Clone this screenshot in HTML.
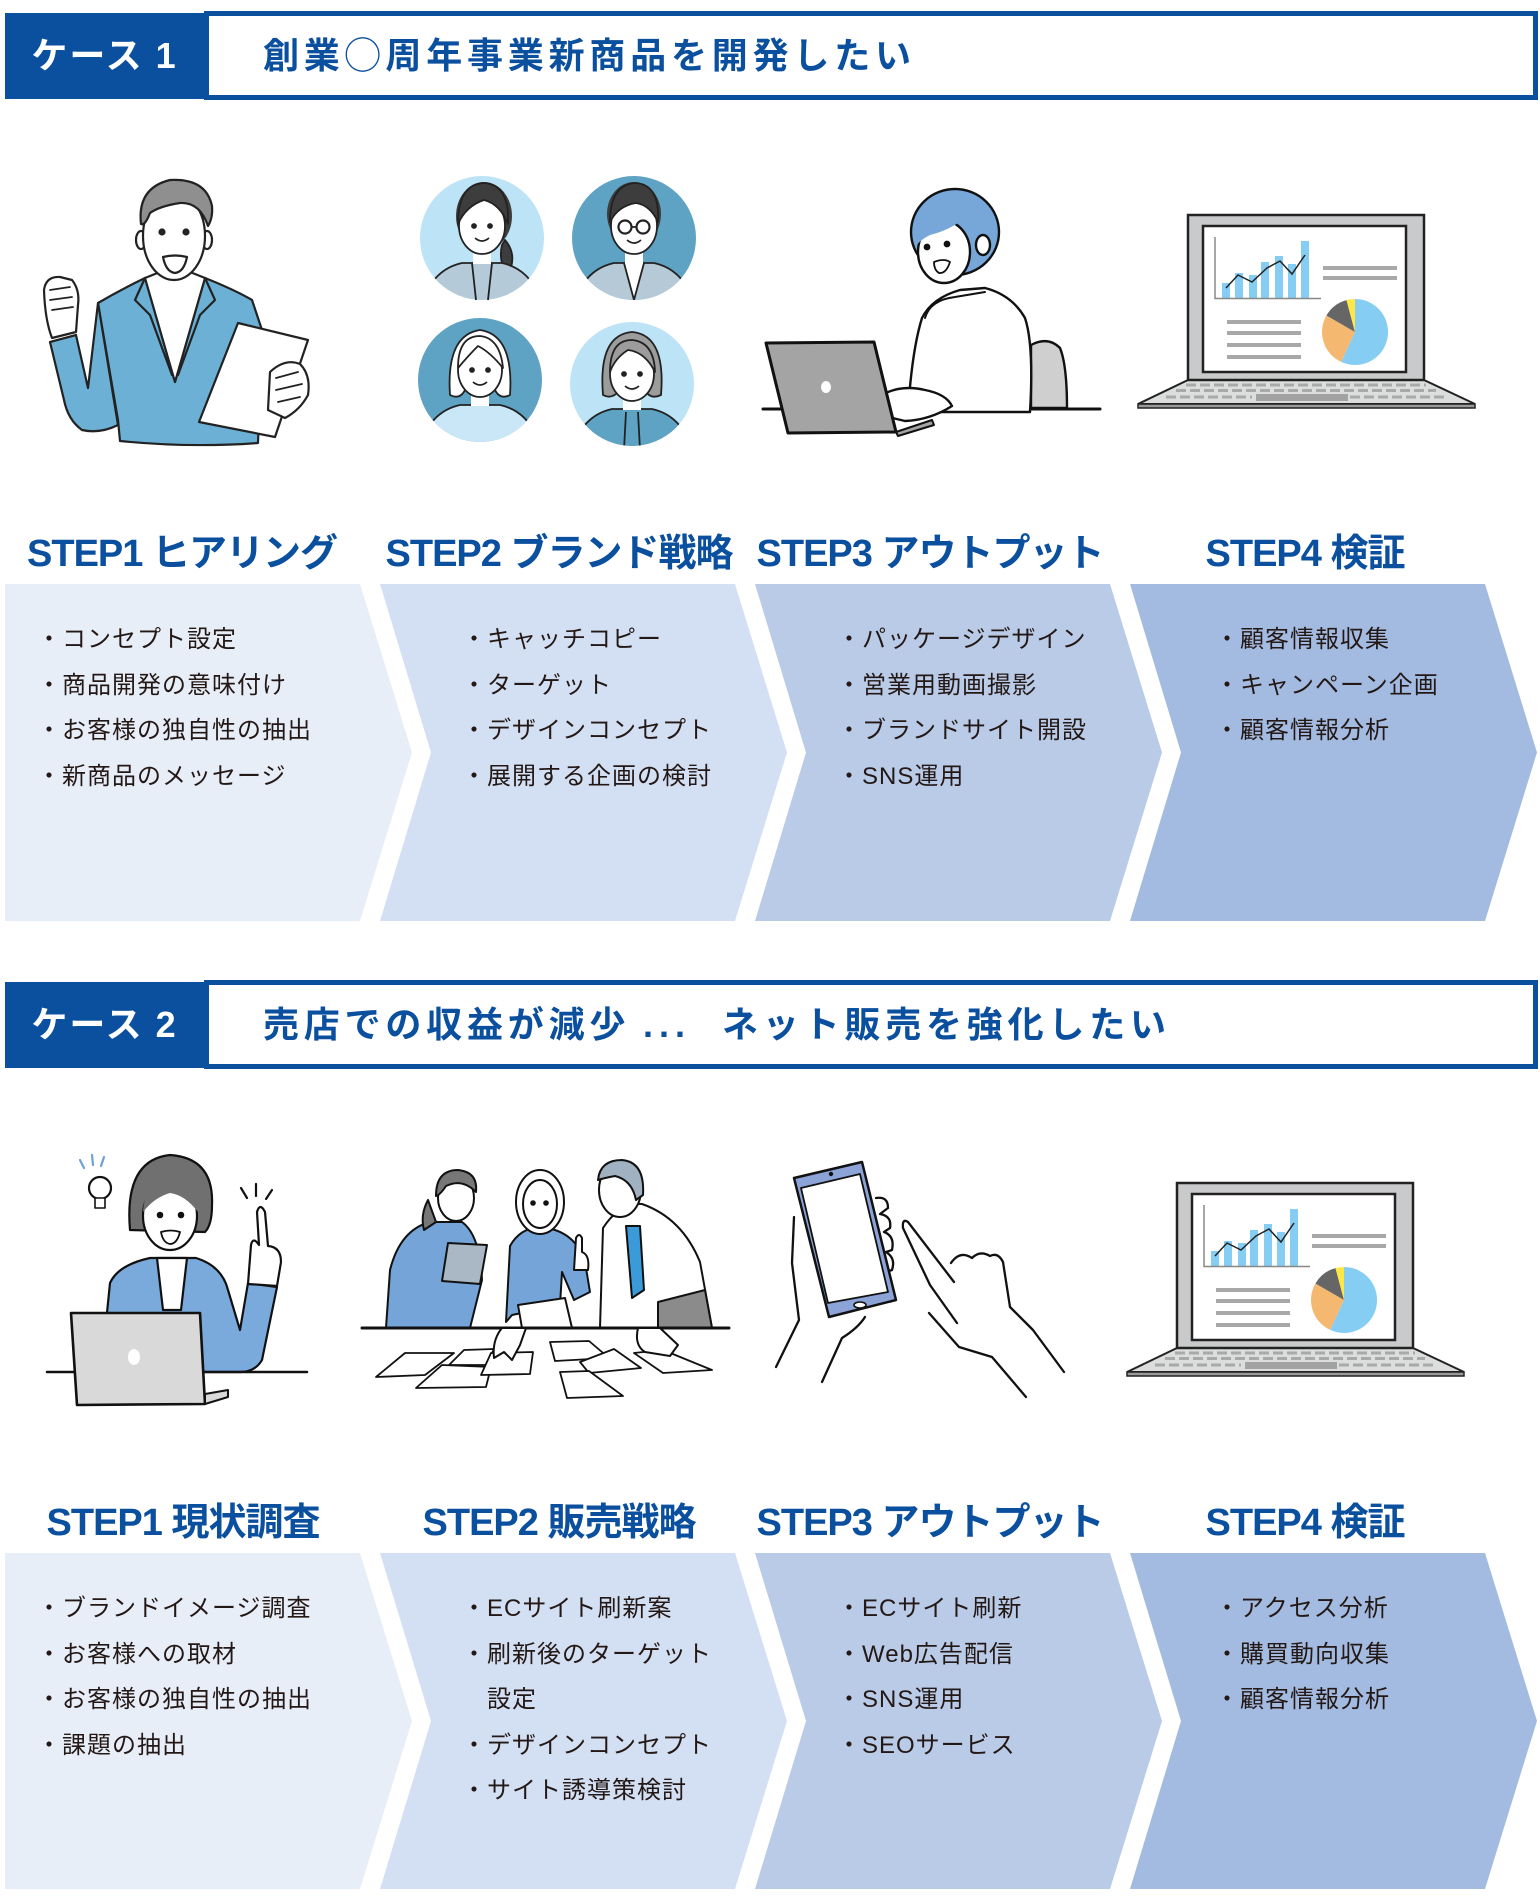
<!DOCTYPE html>
<html><head><meta charset="utf-8">
<style>
html,body{margin:0;padding:0;background:#fff;}
#wrap{position:relative;width:1540px;height:1900px;overflow:hidden;background:#fff;}
.t{position:absolute;font-family:"Liberation Sans","Noto Sans CJK JP",sans-serif;white-space:nowrap;}
.dk{position:absolute;background:#0b4f9f;}
.bx{position:absolute;box-sizing:border-box;border:5px solid #0b4f9f;background:#fff;}
.cs{color:#fff;font-size:36px;font-weight:bold;letter-spacing:2px;text-align:center;}
.ht{color:#0b4f9f;font-size:36px;font-weight:bold;letter-spacing:4.8px;}
.st{color:#0b4f9f;font-size:38px;font-weight:bold;line-height:50px;width:440px;text-align:center;letter-spacing:-1px;}
.bl{color:#231815;font-size:24px;line-height:45.6px;letter-spacing:1px;}
.ind{padding-left:25px;}
</style></head>
<body><div id="wrap">
<svg width="1540" height="1900" viewBox="0 0 1540 1900" style="position:absolute;left:0;top:0">
<defs>
<clipPath id="cp1"><circle cx="482" cy="238" r="62"/></clipPath>
<clipPath id="cp2"><circle cx="634" cy="238" r="62"/></clipPath>
<clipPath id="cp3"><circle cx="480" cy="380" r="62"/></clipPath>
<clipPath id="cp4"><circle cx="632" cy="384" r="62"/></clipPath>
<g id="lap">
<polygon points="1188,380 1424,380 1475,404 1138,404" fill="#dcdddd" stroke="#222" stroke-width="2"/>
<rect x="1138" y="404" width="337" height="4" fill="#9a9a9a" stroke="#222" stroke-width="1.5"/>
<line x1="1186" y1="385" x2="1426" y2="385" stroke="#a9a9a9" stroke-width="3" stroke-dasharray="10 4"/>
<line x1="1176" y1="390.5" x2="1436" y2="390.5" stroke="#a9a9a9" stroke-width="3" stroke-dasharray="10 4"/>
<line x1="1166" y1="397" x2="1252" y2="397" stroke="#a9a9a9" stroke-width="3" stroke-dasharray="10 4"/>
<line x1="1350" y1="397" x2="1446" y2="397" stroke="#a9a9a9" stroke-width="3" stroke-dasharray="10 4"/>
<rect x="1256" y="394" width="92" height="7" fill="#a2a2a2"/>
<rect x="1188" y="215" width="236" height="165" fill="#c9cacb" stroke="#222" stroke-width="2.5"/>
<rect x="1203" y="226" width="203" height="146" fill="#fff" stroke="#222" stroke-width="2.5"/>
<g fill="#85cdf2">
<rect x="1222" y="283" width="8" height="15"/>
<rect x="1235" y="273" width="8" height="25"/>
<rect x="1249" y="275" width="8" height="23"/>
<rect x="1261" y="262" width="8" height="36"/>
<rect x="1275" y="256" width="8" height="42"/>
<rect x="1288" y="264" width="8" height="34"/>
<rect x="1301" y="241" width="8" height="57"/>
</g>
<polyline points="1215,237 1215,298.5 1321,298.5" fill="none" stroke="#888" stroke-width="1.5"/>
<polyline points="1226,288 1238,275 1252,282 1267,268 1280,261 1292,274 1305,255" fill="none" stroke="#222" stroke-width="1.5"/>
<g fill="#a8a8a8">
<rect x="1323" y="266" width="74" height="4"/>
<rect x="1323" y="276" width="74" height="4"/>
<rect x="1227" y="320" width="74" height="4"/>
<rect x="1227" y="331" width="74" height="4"/>
<rect x="1227" y="343" width="74" height="4"/>
<rect x="1227" y="355" width="74" height="4"/>
</g>
<path d="M1355,332 L1355,299 A33,33 0 1 1 1341.1,361.9 Z" fill="#85cdf2"/>
<path d="M1355,332 L1341.1,361.9 A33,33 0 0 1 1326.4,315.5 Z" fill="#f4b870"/>
<path d="M1355,332 L1326.4,315.5 A33,33 0 0 1 1346.5,300.1 Z" fill="#666"/>
<path d="M1355,332 L1346.5,300.1 A33,33 0 0 1 1355,299 Z" fill="#ffe845"/>
</g>
</defs>

<!-- ===== chevrons case 1 ===== -->
<polygon points="5,584 360,584 412,752.5 360,921 5,921" fill="#e8eef8"/>
<polygon points="380,584 735,584 787,752.5 735,921 380,921 431,752.5" fill="#d3e0f3"/>
<polygon points="755,584 1110,584 1162,752.5 1110,921 755,921 806,752.5" fill="#b9cbe7"/>
<polygon points="1130,584 1485,584 1537,752.5 1485,921 1130,921 1181,752.5" fill="#a3bbe0"/>
<!-- ===== chevrons case 2 ===== -->
<polygon points="5,1553 360,1553 412,1721 360,1889 5,1889" fill="#e8eef8"/>
<polygon points="380,1553 735,1553 787,1721 735,1889 380,1889 431,1721" fill="#d3e0f3"/>
<polygon points="755,1553 1110,1553 1162,1721 1110,1889 755,1889 806,1721" fill="#b9cbe7"/>
<polygon points="1130,1553 1485,1553 1537,1721 1485,1889 1130,1889 1181,1721" fill="#a3bbe0"/>

<!-- ===== Case1 ill1: man ===== -->
<g stroke="#222" stroke-width="2.2" stroke-linejoin="round" stroke-linecap="round">
<path d="M98,303 Q120,290 145,278 L175,382 L205,278 Q235,290 252,300 L262,330 L258,443 Q190,448 120,441 L118,420 Z" fill="#6cb1d5"/>
<path d="M98,303 L118,425 Q100,434 82,430 Q68,420 64,400 L50,342 L76,335 L88,388 Z" fill="#6cb1d5"/>
<path d="M145,278 L160,272 L190,272 L205,278 L175,382 Z" fill="#fff"/>
<path d="M145,278 L135,300 L150,315 L172,375" fill="none"/>
<path d="M205,278 L215,300 L200,315 L178,375" fill="none"/>
<path d="M44,290 Q46,276 60,277 L72,280 Q80,290 78,305 L76,332 L52,338 Q45,320 44,290 Z" fill="#fff"/>
<path d="M50,290 L70,287 M50,300 L72,297 M52,310 L73,307" fill="none" stroke-width="1.8"/>
<line x1="50" y1="342" x2="76" y2="335"/>
<ellipse cx="141" cy="240" rx="5" ry="9" fill="#fff"/>
<ellipse cx="207" cy="240" rx="5" ry="9" fill="#fff"/>
<ellipse cx="174" cy="236" rx="31" ry="44" fill="#fff"/>
<path d="M141,224 Q137,188 170,180 Q206,178 212,206 Q213,218 208,226 Q200,202 180,203 Q160,206 150,213 Q145,226 141,224 Z" fill="#8f8f8f"/>
<circle cx="162" cy="232" r="2.5" fill="#222"/>
<circle cx="186" cy="232" r="2.5" fill="#222"/>
<path d="M163,257 Q175,254 187,257 Q184,272 175,273 Q166,272 163,257 Z" fill="#fff"/>
<polygon points="238,323 308,340 275,437 199,422" fill="#fff"/>
<path d="M270,372 Q285,358 300,364 Q311,375 308,395 Q300,410 285,418 L268,410 Z" fill="#fff"/>
<path d="M276,378 L298,372 M276,390 L302,384 M278,402 L300,397" fill="none" stroke-width="1.8"/>
</g>

<!-- ===== Case1 ill2: four circles ===== -->
<g stroke="#222" stroke-width="1.8" stroke-linejoin="round">
<!-- c1 -->
<circle cx="482" cy="238" r="62" fill="#bde3f6" stroke="none"/>
<ellipse cx="484" cy="216" rx="28" ry="34" fill="#3d3d3d" stroke="none"/>
<path d="M505,240 Q518,255 508,275 Q498,262 502,245 Z" fill="#3d3d3d"/>
<g clip-path="url(#cp1)"><path d="M420,310 Q430,270 462,263 L502,263 Q534,270 544,310 Z" fill="#b4cad8"/></g>
<rect x="473" y="248" width="18" height="16" fill="#fff" stroke="none"/>
<path d="M472,263 L476,300 M492,263 L488,300" fill="none"/>
<ellipse cx="482" cy="226" rx="23" ry="28" fill="#fff"/>
<path d="M458,224 Q458,184 484,183 Q510,185 508,224 Q500,204 484,200 Q466,206 458,224 Z" fill="#3d3d3d"/>
<circle cx="474" cy="226" r="2" fill="#222"/><circle cx="490" cy="226" r="2" fill="#222"/>
<path d="M475,238 Q482,244 489,238" fill="none"/>
<!-- c2 -->
<circle cx="634" cy="238" r="62" fill="#5fa3c4" stroke="none"/>
<ellipse cx="634" cy="214" rx="27" ry="32" fill="#3d3d3d" stroke="none"/>
<g clip-path="url(#cp2)"><path d="M572,310 Q582,270 614,263 L654,263 Q686,270 696,310 Z" fill="#b6c9d6"/>
<path d="M624,263 L634,300 L644,263" fill="#fff"/></g>
<rect x="625" y="248" width="18" height="16" fill="#fff" stroke="none"/>
<ellipse cx="634" cy="226" rx="23" ry="28" fill="#fff"/>
<path d="M610,222 Q610,184 636,183 Q660,185 658,222 Q650,205 636,203 Q618,206 610,222 Z" fill="#3d3d3d"/>
<circle cx="625" cy="227" r="6.5" fill="none" stroke-width="2.2"/><circle cx="643" cy="227" r="6.5" fill="none" stroke-width="2.2"/>
<line x1="631" y1="227" x2="637" y2="227"/>
<path d="M627,240 Q634,246 641,240" fill="none"/>
<!-- c3 -->
<circle cx="480" cy="380" r="62" fill="#5fa3c4" stroke="none"/>
<path d="M450,395 Q446,335 480,330 Q514,335 510,395 Q500,400 495,390 L465,390 Q460,400 450,395 Z" fill="#fff"/>
<g clip-path="url(#cp3)"><path d="M418,452 Q428,412 460,405 L500,405 Q532,412 542,452 Z" fill="#c9e7f7"/></g>
<rect x="471" y="390" width="18" height="16" fill="#fff" stroke="none"/>
<ellipse cx="480" cy="370" rx="22" ry="27" fill="#fff"/>
<path d="M458,368 Q458,336 480,336 Q500,338 503,368 Q490,352 478,346 Q468,356 458,368 Z" fill="#fff"/>
<circle cx="472" cy="370" r="2" fill="#222"/><circle cx="488" cy="370" r="2" fill="#222"/>
<path d="M473,382 Q480,388 487,382" fill="none"/>
<!-- c4 -->
<circle cx="632" cy="384" r="62" fill="#bde3f6" stroke="none"/>
<path d="M603,395 Q598,335 632,332 Q666,335 661,395 Q650,400 645,390 L620,390 Q612,400 603,395 Z" fill="#9c9c9c"/>
<g clip-path="url(#cp4)"><path d="M570,456 Q580,416 612,409 L652,409 Q684,416 694,456 Z" fill="#5fa3c4"/>
<path d="M626,412 L624,450 M638,412 L640,450" fill="none"/></g>
<rect x="623" y="394" width="18" height="16" fill="#fff" stroke="none"/>
<ellipse cx="632" cy="374" rx="22" ry="27" fill="#fff"/>
<path d="M610,372 Q610,340 632,340 Q654,342 655,372 Q645,352 628,350 Q615,358 610,372 Z" fill="#9c9c9c"/>
<circle cx="624" cy="374" r="2" fill="#222"/><circle cx="640" cy="374" r="2" fill="#222"/>
<path d="M625,386 Q632,392 639,386" fill="none"/>
</g>

<!-- ===== Case1 ill3: woman at laptop ===== -->
<g stroke="#111" stroke-width="2.4" stroke-linejoin="round" stroke-linecap="round">
<line x1="763" y1="409" x2="1100" y2="409" stroke-width="3"/>
<path d="M1031,408 L1031,345 Q1048,336 1060,348 Q1067,365 1067,408 Z" fill="#cfcfcf"/>
<path d="M908,412 Q912,350 922,318 Q932,298 960,290 L985,288 Q1012,295 1025,318 Q1034,345 1030,412 Z" fill="#fff"/>
<path d="M925,318 Q930,300 955,297 L985,292" fill="none" stroke-width="2"/>
<path d="M880,396 Q900,384 925,390 Q946,394 952,406 Q930,420 905,421 L884,416 Z" fill="#fff"/>
<ellipse cx="955" cy="232" rx="44" ry="43" fill="#77a6d9"/>
<ellipse cx="944" cy="252" rx="26" ry="31" fill="#fff"/>
<path d="M917,245 Q916,205 950,200 Q985,200 992,238 Q980,222 965,218 Q950,230 930,235 Q920,240 917,245 Z" fill="#77a6d9" stroke="none"/>
<ellipse cx="983" cy="245" rx="7" ry="10" fill="#fff"/>
<circle cx="927" cy="247" r="2.2" fill="#111"/><circle cx="947" cy="244" r="2.2" fill="#111"/>
<path d="M934,262 Q944,258 950,262 Q946,274 939,273 Q934,270 934,262 Z" fill="#fff" stroke-width="1.8"/>
<polygon points="766,343 874,342 896,432 788,433" fill="#a4a4a4" stroke-width="3"/>
<polygon points="896,432 932,420 934,425 898,436" fill="#a4a4a4" stroke-width="2"/>
<ellipse cx="826" cy="387" rx="5" ry="6" fill="#fff" stroke="none"/>
</g>

<!-- ===== Case1 ill4: laptop ===== -->
<use href="#lap"/>

<!-- ===== Case2 ill1: woman with idea ===== -->
<g stroke="#111" stroke-width="2.2" stroke-linejoin="round" stroke-linecap="round">
<line x1="80" y1="1160" x2="84" y2="1168" stroke="#6fa0d8"/>
<line x1="92" y1="1155" x2="93" y2="1165" stroke="#6fa0d8"/>
<line x1="104" y1="1157" x2="101" y2="1166" stroke="#6fa0d8"/>
<circle cx="100" cy="1188" r="11" fill="#fff"/>
<rect x="95" y="1198" width="10" height="10" fill="#fff" stroke-width="1.6"/>
<line x1="241" y1="1188" x2="247" y2="1198"/>
<line x1="256" y1="1184" x2="256" y2="1196"/>
<line x1="272" y1="1190" x2="266" y2="1199"/>
<path d="M130,1230 Q124,1160 170,1155 Q214,1158 212,1205 Q212,1225 205,1232 Z" fill="#707070"/>
<path d="M101,1372 L110,1283 Q118,1265 150,1258 L196,1258 Q222,1266 228,1290 L240,1330 L248,1283 L277,1287 L262,1360 Q255,1372 240,1372 Z" fill="#7aaadb"/>
<polygon points="157,1258 187,1258 181,1310 163,1310" fill="#fff"/>
<ellipse cx="170" cy="1216" rx="27" ry="34" fill="#fff"/>
<path d="M143,1212 Q145,1180 170,1178 Q195,1180 198,1212 Q185,1195 170,1193 Q155,1197 143,1212 Z" fill="#707070" stroke="none"/>
<circle cx="160" cy="1215" r="2.2" fill="#111"/><circle cx="181" cy="1215" r="2.2" fill="#111"/>
<path d="M161,1232 Q171,1229 180,1232 Q177,1244 170,1244 Q163,1243 161,1232 Z" fill="#fff" stroke-width="1.8"/>
<path d="M248,1284 L251,1245 Q253,1236 259,1245 L257,1212 Q260,1202 265,1212 L268,1246 Q281,1247 281,1262 L277,1286 Z" fill="#fff"/>
<line x1="47" y1="1372" x2="307" y2="1372" stroke-width="2.5"/>
<polygon points="71,1313 200,1313 205,1404 77,1405" fill="#d9d9d9" stroke-width="2.6"/>
<polygon points="205,1394 228,1390 228,1397 205,1404" fill="#d9d9d9" stroke-width="2"/>
<ellipse cx="134" cy="1357" rx="6" ry="8" fill="#fff" stroke="none"/>
</g>

<!-- ===== Case2 ill2: group meeting ===== -->
<g stroke="#111" stroke-width="2" stroke-linejoin="round" stroke-linecap="round">
<!-- person A -->
<path d="M386,1328 L390,1270 Q400,1230 430,1222 L462,1222 Q480,1235 482,1280 L470,1328 Z" fill="#75a5d8"/>
<path d="M428,1200 Q420,1215 424,1230 L436,1222 Z" fill="#777"/>
<ellipse cx="456" cy="1198" rx="18" ry="23" fill="#fff"/>
<path d="M436,1196 Q436,1170 458,1170 Q478,1172 476,1192 Q462,1178 446,1186 Q440,1195 436,1196 Z" fill="#777"/>
<polygon points="448,1243 487,1245 480,1284 442,1281" fill="#a9b8c4"/>
<!-- person C -->
<path d="M600,1328 L603,1228 Q620,1202 642,1204 Q682,1218 700,1262 L712,1328 Z" fill="#fff"/>
<polygon points="626,1226 640,1226 644,1290 632,1298" fill="#3b9ad8"/>
<polygon points="658,1302 705,1290 712,1328 658,1328" fill="#8b8b8b"/>
<ellipse cx="620" cy="1190" rx="21" ry="27" fill="#fff"/>
<path d="M598,1180 Q600,1160 622,1160 Q645,1162 643,1195 L636,1200 Q632,1180 615,1176 Q604,1178 598,1180 Z" fill="#a0b2c2"/>
<!-- person B -->
<path d="M506,1322 L510,1246 Q520,1228 540,1227 Q575,1230 585,1262 L590,1292 L574,1300 L562,1272 L560,1305 L512,1315 Z" fill="#75a5d8"/>
<polygon points="518,1305 565,1298 572,1328 522,1328" fill="#fff"/>
<ellipse cx="540" cy="1202" rx="24" ry="32" fill="#fff"/>
<ellipse cx="540" cy="1204" rx="17" ry="24" fill="#fff"/>
<circle cx="533" cy="1203" r="1.8" fill="#111"/><circle cx="546" cy="1203" r="1.8" fill="#111"/>
<path d="M574,1270 L576,1238 Q579,1232 582,1238 L582,1252 Q590,1255 588,1270 Z" fill="#fff"/>
<line x1="362" y1="1328" x2="729" y2="1328" stroke-width="3"/>
<g fill="#fff" stroke-width="1.8">
<polygon points="376,1377 405,1353 454,1353 425,1375"/>
<polygon points="449,1365 464,1350 494,1349 486,1365"/>
<polygon points="416,1388 442,1365 491,1367 486,1387"/>
<polygon points="481,1375 491,1353 533,1352 530,1374"/>
<polygon points="550,1342 589,1341 609,1358 555,1361"/>
<polygon points="580,1362 614,1349 641,1368 589,1373"/>
<polygon points="560,1372 589,1371 623,1396 567,1398"/>
<polygon points="634,1353 663,1350 712,1370 663,1373"/>
</g>
<path d="M502,1328 Q492,1340 494,1358 L504,1352 L512,1360 L520,1345 L526,1328 Z" fill="#fff"/>
<path d="M638,1328 Q634,1345 645,1352 L670,1356 L678,1345 L660,1328 Z" fill="#fff"/>
</g>

<!-- ===== Case2 ill3: phone & hands ===== -->
<g stroke="#111" stroke-width="2.3" stroke-linejoin="round" stroke-linecap="round" fill="none">
<path d="M794,1217 L792,1263 L799,1320 L776,1367"/>
<path d="M822,1382 L842,1338 Q858,1328 865,1317"/>
<path d="M876,1198 Q888,1196 888,1208 L880,1214 Q892,1216 890,1228 L884,1232 Q895,1236 892,1250 L886,1252 Q896,1258 892,1270 L886,1272"/>
<polygon points="794,1178 862,1162 896,1300 829,1317" fill="#8ca3d8" stroke-width="2.5"/>
<polygon points="801,1188 860,1174 888,1292 828,1303" fill="#fff" stroke-width="1.8"/>
<circle cx="831" cy="1174" r="2.2" fill="#111" stroke="none"/>
<ellipse cx="860" cy="1305" rx="6" ry="3" fill="#fff" stroke-width="1.6"/>
<path d="M954,1282 L908,1222 Q902,1218 903,1228 L930,1285 L957,1323"/>
<path d="M951,1263 Q960,1250 972,1258 Q980,1250 990,1256 Q998,1252 1003,1262 L1010,1307 L1033,1330 L1064,1372"/>
<path d="M929,1313 L959,1347 L992,1357 L1026,1397"/>
</g>

<!-- ===== Case2 ill4: laptop ===== -->
<use href="#lap" transform="translate(-11,968)"/>
</svg>

<!-- ===== Case 1 header ===== -->
<div class="bx" style="left:204px;top:11px;width:1334px;height:89px;"></div>
<div class="dk" style="left:5px;top:13px;width:199px;height:86px;"></div>
<div class="t cs" style="left:5px;top:13px;width:199px;height:86px;line-height:86px;">ケース 1</div>
<div class="t ht" style="left:263px;top:11px;height:89px;line-height:89px;">創業◯周年事業新商品を開発したい</div>

<!-- Case 1 step titles -->
<div class="t st" style="left:-38px;top:529px;">STEP1 ヒアリング</div>
<div class="t st" style="left:339px;top:529px;">STEP2 ブランド戦略</div>
<div class="t st" style="left:710px;top:529px;">STEP3 アウトプット</div>
<div class="t st" style="left:1085px;top:529px;">STEP4 検証</div>

<!-- Case 1 bullets -->
<div class="t bl" style="left:37px;top:617px;">・コンセプト設定<br>・商品開発の意味付け<br>・お客様の独自性の抽出<br>・新商品のメッセージ</div>
<div class="t bl" style="left:462px;top:617px;">・キャッチコピー<br>・ターゲット<br>・デザインコンセプト<br>・展開する企画の検討</div>
<div class="t bl" style="left:837px;top:617px;">・パッケージデザイン<br>・営業用動画撮影<br>・ブランドサイト開設<br>・SNS運用</div>
<div class="t bl" style="left:1215px;top:617px;">・顧客情報収集<br>・キャンペーン企画<br>・顧客情報分析</div>

<!-- ===== Case 2 header ===== -->
<div class="bx" style="left:204px;top:980px;width:1334px;height:89px;"></div>
<div class="dk" style="left:5px;top:982px;width:199px;height:86px;"></div>
<div class="t cs" style="left:5px;top:982px;width:199px;height:86px;line-height:86px;">ケース 2</div>
<div class="t ht" style="left:263px;top:980px;height:89px;line-height:89px;">売店での収益が減少</div>
<div class="t ht" style="left:643px;top:980px;height:89px;line-height:89px;letter-spacing:6px;">...</div>
<div class="t ht" style="left:722px;top:980px;height:89px;line-height:89px;">ネット販売を強化したい</div>

<!-- Case 2 step titles -->
<div class="t st" style="left:-37px;top:1498px;">STEP1 現状調査</div>
<div class="t st" style="left:339px;top:1498px;">STEP2 販売戦略</div>
<div class="t st" style="left:710px;top:1498px;">STEP3 アウトプット</div>
<div class="t st" style="left:1085px;top:1498px;">STEP4 検証</div>

<!-- Case 2 bullets -->
<div class="t bl" style="left:37px;top:1586px;">・ブランドイメージ調査<br>・お客様への取材<br>・お客様の独自性の抽出<br>・課題の抽出</div>
<div class="t bl" style="left:462px;top:1586px;">・ECサイト刷新案<br>・刷新後のターゲット<br><span class="ind">設定</span><br>・デザインコンセプト<br>・サイト誘導策検討</div>
<div class="t bl" style="left:837px;top:1586px;">・ECサイト刷新<br>・Web広告配信<br>・SNS運用<br>・SEOサービス</div>
<div class="t bl" style="left:1215px;top:1586px;">・アクセス分析<br>・購買動向収集<br>・顧客情報分析</div>

</div></body></html>
